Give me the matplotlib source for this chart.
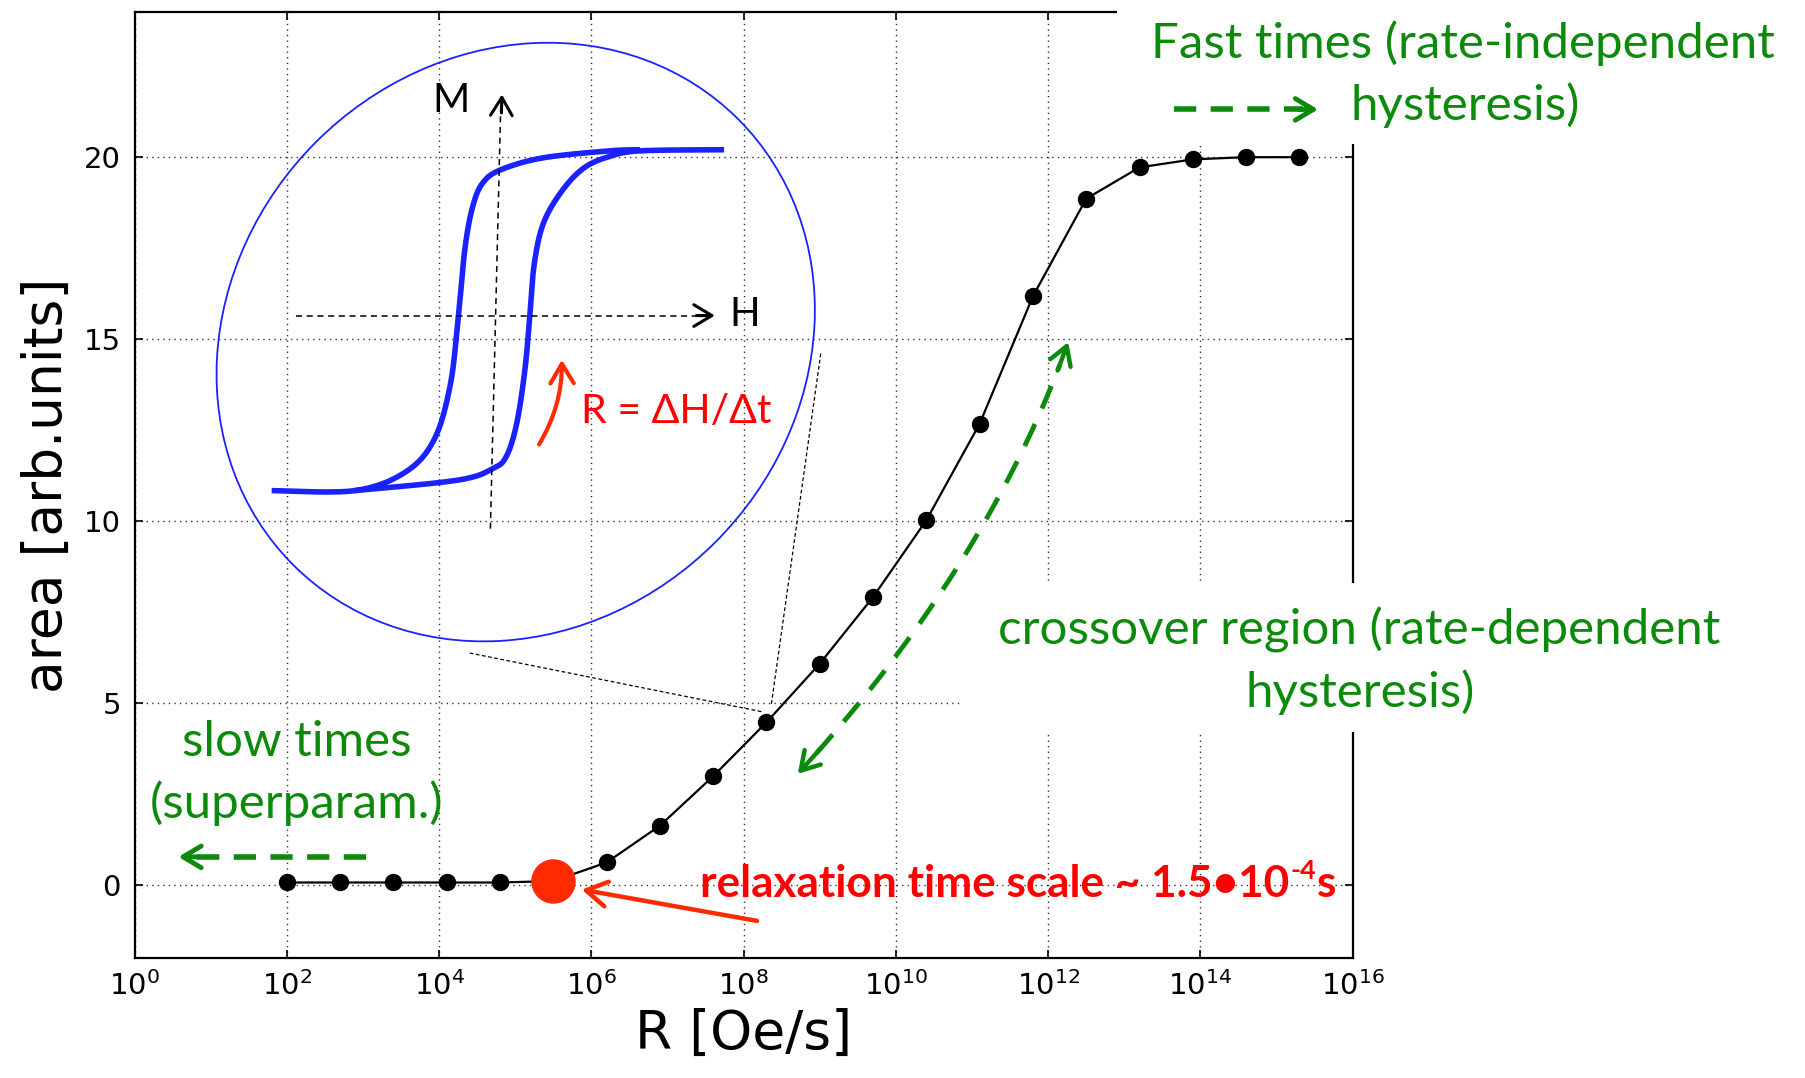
import numpy as np
import matplotlib.pyplot as plt
from matplotlib.patches import Ellipse, Rectangle, FancyArrowPatch

# loop area vs sweep rate (x given as log10 of R)
log_rate = [2.0, 2.7, 3.4, 4.1, 4.8, 5.5, 6.2, 6.9, 7.6, 8.3,
            9.0, 9.7, 10.4, 11.1, 11.8, 12.5, 13.2, 13.9, 14.6, 15.3]
area = [0.08, 0.08, 0.08, 0.08, 0.08, 0.12, 0.63, 1.64, 3.0, 4.48,
        6.09, 7.92, 10.03, 12.68, 16.18, 18.86, 19.72, 19.94, 20.0, 20.0]
relax_index = 5   # point marked as the relaxation time scale

xtick_exp = [0, 2, 4, 6, 8, 10, 12, 14, 16]
yticks = [0, 5, 10, 15, 20]

rate = [10.0 ** e for e in log_rate]

GREEN = '#0b8a0b'
RED = '#ff0000'
ORANGE = '#ff2a00'
BLUE = '#1a22ff'
ANN = ['Lato', 'DejaVu Sans']

plt.rcParams['font.family'] = 'DejaVu Sans'
fig = plt.figure(figsize=(18.05, 10.78), dpi=100)

# main plot
ax = fig.add_axes([0.0746, 0.1111, 0.6748, 0.8782])
ax.plot(rate, area, '-o', color='k', lw=1.6, ms=11.5, zorder=3)
ax.plot(rate[relax_index], area[relax_index], 'o', ms=31, color=ORANGE, zorder=4)
ax.set_xscale('log')
ax.set_xlim(1, 1e16)
ax.set_ylim(-2, 24)
ax.set_xticks([10.0 ** e for e in xtick_exp])
ax.xaxis.set_minor_locator(plt.NullLocator())
ax.set_yticks(yticks)
ax.grid(True, ls=(0, (1, 3)), color='k', lw=1.0, alpha=0.8)
ax.tick_params(direction='in', top=True, right=True, length=6, width=1.2, labelsize=21)
ax.tick_params(axis='x', pad=9)
ax.tick_params(axis='y', pad=10)
for s in ax.spines.values():
    s.set_linewidth(1.6)
ax.set_xlabel('R [Oe/s]', fontsize=38.5, labelpad=5)
ax.set_ylabel('area [arb.units]', fontsize=38.5, labelpad=8)

# overlay in picture pixels (1568 x 936 grid) for the hand-drawn annotations
ov = fig.add_axes([0, 0, 1, 1])
ov.set_xlim(0, 1568)
ov.set_ylim(936, 0)
ov.axis('off')

# white text boxes that hide part of the frame
ov.add_patch(Rectangle((970, 0), 598, 125, fc='white', ec='none', zorder=1))
ov.add_patch(Rectangle((835, 506), 733, 130, fc='white', ec='none', zorder=1))


def smooth(pts, n=16):
    p = np.asarray(pts, float)
    p = np.vstack([p[0], p, p[-1]])
    out = []
    t = np.linspace(0, 1, n, endpoint=False)[:, None]
    for i in range(1, len(p) - 2):
        p0, p1, p2, p3 = p[i - 1], p[i], p[i + 1], p[i + 2]
        out.append(0.5 * (2 * p1 + (-p0 + p2) * t + (2 * p0 - 5 * p1 + 4 * p2 - p3) * t ** 2
                          + (-p0 + 3 * p1 - 3 * p2 + p3) * t ** 3))
    out.append(p[-1:])
    return np.vstack(out)


def head(tip, frm, color, lw, size):
    ov.annotate('', xy=tip, xytext=frm,
                arrowprops=dict(arrowstyle='->,head_length=0.5,head_width=0.3', color=color,
                                lw=lw, shrinkA=0, shrinkB=0, mutation_scale=size), zorder=5)


# hysteresis sketch
ov.add_patch(Ellipse((448, 297), 547, 491, angle=-45, fill=False, ec=BLUE, lw=1.3, zorder=2))
left_branch = [(236, 426), (308, 426), (352, 410), (377, 382), (391, 335), (398, 277), (404, 215),
               (411, 178), (420, 158), (436, 147), (472, 137), (529, 131), (556, 130)]
right_branch = [(308, 426), (397, 417), (428, 407), (440, 396), (449, 367), (456, 321), (460, 277),
                (464, 230), (472, 194), (488, 166), (507, 146), (529, 136), (556, 131), (629, 130)]
for br in (left_branch, right_branch):
    c = smooth(br)
    ov.plot(c[:, 0], c[:, 1], color=BLUE, lw=4, solid_capstyle='butt', zorder=3)

ov.plot([257, 612], [274, 274], color='k', lw=1.1, ls=(0, (4, 3)), zorder=3)
head((621, 274), (605, 274), 'k', 2.2, 26)
ov.plot([426, 435], [459, 92], color='k', lw=1.1, ls=(0, (4, 3)), zorder=3)
head((436, 82), (435.6, 98), 'k', 2.2, 26)
ov.text(392, 87, 'M', fontsize=29, family=ANN, ha='center', va='center', zorder=5)
ov.text(647, 273, 'H', fontsize=29, family=ANN, ha='center', va='center', zorder=5)

ov.add_patch(FancyArrowPatch((467, 388), (488, 310), connectionstyle='arc3,rad=0.15',
                             arrowstyle='->,head_length=0.5,head_width=0.3', mutation_scale=28,
                             color=ORANGE, lw=3, zorder=5))
ov.text(505, 357, 'R = ΔH/Δt', fontsize=29.5, family=ANN, color=RED, ha='left', va='center', zorder=5)

# callout lines from the sketch to the curve
ov.plot([408, 662], [567, 618], color='k', lw=0.9, ls=(0, (3, 2)), zorder=2)
ov.plot([713, 670], [307, 612], color='k', lw=0.9, ls=(0, (3, 2)), zorder=2)

# green dashed arrows
dash = (0, (4, 2.6))
ov.plot([1020, 1132], [95, 95], color=GREEN, lw=4, ls=dash, zorder=5)
head((1145, 95), (1128, 95), GREEN, 3.5, 26)
ov.plot([318, 168], [744, 744], color=GREEN, lw=4, ls=dash, zorder=5)
head((155, 744), (172, 744), GREEN, 3.5, 26)

p0, cp, p2 = np.array([693, 672]), np.array([858, 492]), np.array([928, 297])
tt = np.linspace(0, 1, 80)[:, None]
curve = (1 - tt) ** 2 * p0 + 2 * (1 - tt) * tt * cp + tt ** 2 * p2
ov.plot(curve[4:-4, 0], curve[4:-4, 1], color=GREEN, lw=3.5, ls=(0, (5, 3.5)), zorder=5)
head(tuple(p0), tuple(curve[5]), GREEN, 3.2, 26)
head(tuple(p2), tuple(curve[-6]), GREEN, 3.2, 26)

# green labels
GFS = 35.5
ov.text(1000, 50, 'Fast times (rate-independent', fontsize=GFS, family=ANN, color=GREEN,
        ha='left', va='baseline', zorder=5)
ov.text(1173, 104, 'hysteresis)', fontsize=GFS, family=ANN, color=GREEN,
        ha='left', va='baseline', zorder=5)
ov.text(1181, 560, 'crossover region (rate-dependent', fontsize=GFS, family=ANN, color=GREEN,
        ha='center', va='baseline', zorder=5)
ov.text(1182, 614, 'hysteresis)', fontsize=GFS, family=ANN, color=GREEN,
        ha='center', va='baseline', zorder=5)
ov.text(258, 656, 'slow times', fontsize=GFS, family=ANN, color=GREEN,
        ha='center', va='baseline', zorder=5)
ov.text(258, 710, '(superparam.)', fontsize=GFS, family=ANN, color=GREEN,
        ha='center', va='baseline', zorder=5)

# relaxation label with a real superscript
ov.add_patch(FancyArrowPatch((660, 800), (503, 772), arrowstyle='->,head_length=0.5,head_width=0.3',
                             mutation_scale=30, color=ORANGE, lw=3.2, zorder=5))
t_main = ov.text(608, 779, 'relaxation time scale ~ 1.5•10', fontsize=31.8, family=ANN,
                 weight='bold', color=RED, ha='left', va='baseline', zorder=5)
fig.canvas.draw()
rend = fig.canvas.get_renderer()
inv = ov.transData.inverted()
x_end = inv.transform((t_main.get_window_extent(rend).x1, 0))[0]
t_sup = ov.text(x_end + 1, 763, '-4', fontsize=19.5, family=ANN, weight='bold', color=RED,
                ha='left', va='baseline', zorder=5)
fig.canvas.draw()
x_end = inv.transform((t_sup.get_window_extent(rend).x1, 0))[0]
ov.text(x_end + 1, 779, 's', fontsize=31.8, family=ANN, weight='bold', color=RED,
        ha='left', va='baseline', zorder=5)

fig.savefig('out.png', dpi=100)
